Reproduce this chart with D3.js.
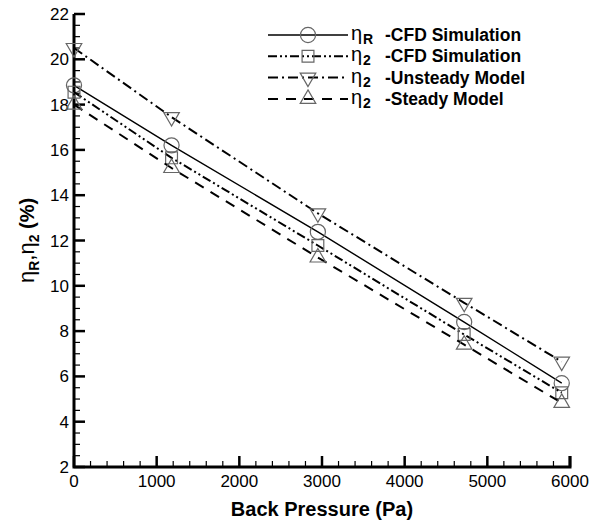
<!DOCTYPE html>
<html lang='en'>
<head>
<meta charset='utf-8'>
<title>Back pressure chart</title>
<script src='https://cdn.jsdelivr.net/npm/d3@7'></script>
<style>
  body { margin: 0; background: #fff; }
  text { font-family: 'Liberation Sans', Arial, sans-serif; fill: #000; }
</style>
</head>
<body>
<script>
// data
var pressure = [0, 1180, 2950, 4720, 5900];
var etaRCfd = [18.85, 16.2, 12.38, 8.4, 5.7];
var eta2Cfd = [18.55, 15.65, 11.78, 7.85, 5.28];
var eta2Unsteady = [20.5, 17.45, 13.2, 9.25, 6.65];
var eta2Steady = [18.0, 15.2, 11.25, 7.4, 4.83];
var seriesNames = ['R', '2', '2', '2'];
var seriesLabels = ['-CFD Simulation', '-CFD Simulation', '-Unsteady Model', '-Steady Model'];
var xTicks = [0, 1000, 2000, 3000, 4000, 5000, 6000];
var yTicks = [2, 4, 6, 8, 10, 12, 14, 16, 18, 20, 22];

var width = 589, height = 523;
var plotL = 74, plotR = 570, plotT = 14, plotB = 467;

var svg = d3.select('body').append('svg').attr('width', width).attr('height', height);

var x = d3.scaleLinear().domain([0, 6000]).range([plotL, plotR]);
var y = d3.scaleLinear().domain([2, 22]).range([plotB, plotT]);

var series = [
  {vals: etaRCfd, dash: null, sw: 1.4, sym: d3.symbolCircle, size: 180, rot: 0},
  {vals: eta2Cfd, dash: '9,3,2,3,2,3', sw: 2, sym: d3.symbolSquare, size: 140, rot: 0},
  {vals: eta2Unsteady, dash: '10,4,2,4', sw: 2, sym: d3.symbolTriangle, size: 105, rot: 180},
  {vals: eta2Steady, dash: '10,8', sw: 2, sym: d3.symbolTriangle, size: 105, rot: 0}
];

// ticks, major and minor, pointing inward
var g = svg.append('g');
d3.range(0, 6001, 200).forEach(function(v) {
  var major = v % 1000 == 0;
  g.append('line').attr('x1', x(v)).attr('x2', x(v))
    .attr('y1', plotB).attr('y2', plotB - (major ? 11 : 6))
    .attr('stroke', '#000').attr('stroke-width', major ? 2.5 : 1.2);
});
d3.range(2, 22.01, 0.5).forEach(function(v) {
  var major = Math.abs(v % 2) < 1e-6;
  g.append('line').attr('x1', plotL).attr('x2', plotL + (major ? 11 : 6))
    .attr('y1', y(v)).attr('y2', y(v))
    .attr('stroke', '#000').attr('stroke-width', major ? 2.5 : 1.2);
});

// axis lines
g.append('path').attr('d', 'M' + plotL + ',' + plotT + 'V' + plotB + 'H' + plotR + 'V' + (plotB - 11))
  .attr('fill', 'none').attr('stroke', '#000').attr('stroke-width', 3);

// tick labels
xTicks.forEach(function(v) {
  svg.append('text').attr('x', x(v)).attr('y', 487).attr('text-anchor', 'middle')
    .attr('font-size', '17px').text(v);
});
yTicks.forEach(function(v) {
  svg.append('text').attr('x', 69).attr('y', y(v) + 6).attr('text-anchor', 'end')
    .attr('font-size', '17px').text(v);
});

// axis titles
svg.append('text').attr('x', 322).attr('y', 516).attr('text-anchor', 'middle')
  .attr('font-size', '20px').attr('font-weight', 'bold').text('Back Pressure (Pa)');

var yt = svg.append('text').attr('transform', 'translate(34,' + ((plotT + plotB) / 2) + ') rotate(-90)')
  .attr('text-anchor', 'middle').attr('font-size', '22px');
yt.append('tspan').text('\u03b7');
yt.append('tspan').attr('font-size', '14px').attr('font-weight', 'bold').attr('dy', 5).text('R');
yt.append('tspan').attr('dy', -5).text(',\u03b7');
yt.append('tspan').attr('font-size', '14px').attr('font-weight', 'bold').attr('dy', 5).text('2');
yt.append('tspan').attr('dy', -5).attr('font-weight', 'bold').attr('font-size', '20px').text(' (%)');

// lines + markers
var line = d3.line().x(function(d, i) { return x(pressure[i]); }).y(function(d) { return y(d); });
series.forEach(function(s) {
  svg.append('path').datum(s.vals).attr('d', line).attr('fill', 'none')
    .attr('stroke', '#000').attr('stroke-width', s.sw)
    .attr('stroke-dasharray', s.dash);
  svg.selectAll(null).data(s.vals).enter().append('path')
    .attr('d', d3.symbol().type(s.sym).size(s.size))
    .attr('transform', function(d, i) { return 'translate(' + x(pressure[i]) + ',' + y(d) + ') rotate(' + s.rot + ')'; })
    .attr('fill', 'none').attr('stroke', '#666').attr('stroke-width', 1.2);
});

// legend
series.forEach(function(s, i) {
  var ly = 35 + i * 21.3;
  svg.append('line').attr('x1', 268).attr('x2', 348).attr('y1', ly).attr('y2', ly)
    .attr('stroke', '#000').attr('stroke-width', s.sw).attr('stroke-dasharray', s.dash);
  svg.append('path').attr('d', d3.symbol().type(s.sym).size(s.size))
    .attr('transform', 'translate(308,' + ly + ') rotate(' + s.rot + ')')
    .attr('fill', 'none').attr('stroke', '#666').attr('stroke-width', 1.2);
  svg.append('text').attr('x', 351).attr('y', ly + 5).attr('font-size', '20px').text('\u03b7');
  svg.append('text').attr('x', 363).attr('y', ly + 9).attr('font-size', '14px').attr('font-weight', 'bold')
    .text(seriesNames[i]);
  svg.append('text').attr('x', 385).attr('y', ly + 6).attr('font-size', '17.5px').attr('font-weight', 'bold')
    .text(seriesLabels[i]);
});
</script>
</body>
</html>
